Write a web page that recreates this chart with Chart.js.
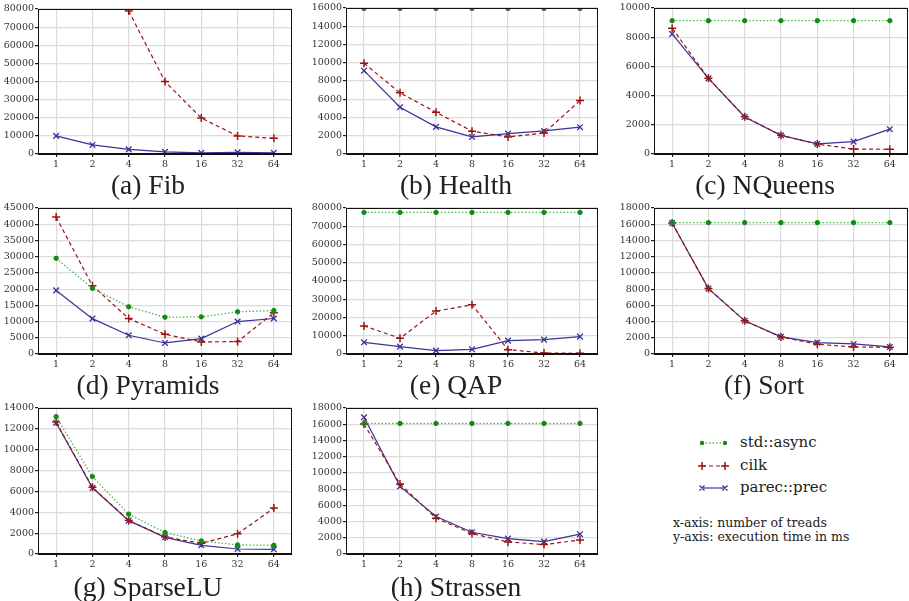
<!DOCTYPE html>
<html>
<head>
<meta charset="utf-8">
<script src="https://cdn.jsdelivr.net/npm/chart.js@4/dist/chart.umd.min.js"></script>
<style>
  html, body { margin:0; padding:0; background:#fff; width:909px; height:601px; overflow:hidden; position:relative; }
  canvas { position:absolute; }
  .cap { position:absolute; width:300px; text-align:center; font-family:"Liberation Serif", serif; font-size:27.5px; line-height:28px; color:#222; white-space:nowrap; }
  .leg { position:absolute; font-family:"DejaVu Serif", serif; font-size:15px; line-height:16px; color:#222; white-space:nowrap; }
  .note { position:absolute; font-family:"DejaVu Serif", serif; font-size:12.5px; line-height:14px; color:#222; white-space:nowrap; }
  svg { position:absolute; }
</style>
</head>
<body>
<script>
// ---- data ----
const threads = ['1', '2', '4', '8', '16', '32', '64'];
const seriesNames = ['std::async', 'cilk', 'parec::prec'];

const fibAsync = [null, null, null, null, null, null, null];
const fibCilk  = [null, null, 78900, 40000, 19800, 9950, 8650];
const fibPrec  = [10000, 5000, 2550, 1200, 600, 900, 600];

const healthAsync = [15950, 15950, 15950, 15950, 15950, 15950, 15950];
const healthCilk  = [9950, 6700, 4580, 2500, 1870, 2300, 5850];
const healthPrec  = [9130, 5130, 2970, 1870, 2240, 2530, 2940];

const nqueensAsync = [9130, 9130, 9130, 9130, 9130, 9130, 9130];
const nqueensCilk  = [8620, 5180, 2550, 1280, 680, 340, 320];
const nqueensPrec  = [8230, 5180, 2540, 1280, 690, 850, 1700];

const pyramidsAsync = [29500, 20230, 14550, 11350, 11450, 13000, 13400];
const pyramidsCilk  = [42200, 21050, 10940, 6090, 3720, 3820, 12700];
const pyramidsPrec  = [19600, 10900, 5780, 3400, 4750, 10000, 10940];

const qapAsync = [77600, 77600, 77600, 77600, 77600, 77600, 77600];
const qapCilk  = [15400, 8620, 23500, 26970, 2390, 550, 370];
const qapPrec  = [6420, 4040, 1830, 2570, 7340, 7890, 9540];

const sortAsync = [16200, 16200, 16200, 16200, 16200, 16200, 16200];
const sortCilk  = [16150, 8060, 4090, 2110, 1200, 870, 830];
const sortPrec  = [16150, 8060, 4090, 2110, 1400, 1240, 870];

const sparseAsync = [13170, 7420, 3820, 2055, 1250, 870, 835];
const sparseCilk  = [12650, 6390, 3210, 1640, 1030, 1930, 4400];
const sparsePrec  = [12590, 6350, 3200, 1600, 835, 480, 450];

const strassenAsync = [16100, 16100, 16100, 16100, 16100, 16100, 16100];
const strassenCilk  = [16020, 8630, 4420, 2520, 1490, 1160, 1730];
const strassenPrec  = [16850, 8340, 4620, 2680, 1900, 1530, 2440];

const yMaxes  = [80000, 16000, 10000, 45000, 80000, 18000, 14000, 18000];
const ySteps  = [10000, 2000, 2000, 5000, 10000, 2000, 2000, 2000];
const captions = ['(a) Fib', '(b) Health', '(c) NQueens', '(d) Pyramids', '(e) QAP', '(f) Sort', '(g) SparseLU', '(h) Strassen'];

// ---- styles / layout ----
const GREEN_LINE = '#4cb84c', GREEN_PT = '#138a13';
const RED = '#9a1414';
const BLUE = '#3a3296';

const panels = [
  { rect: [38, 9, 292, 154],   cx: 148, cy: 185, data: [fibAsync, fibCilk, fibPrec] },
  { rect: [346, 8, 598, 154],  cx: 456, cy: 185, data: [healthAsync, healthCilk, healthPrec] },
  { rect: [654, 8, 908, 154],  cx: 765, cy: 185, data: [nqueensAsync, nqueensCilk, nqueensPrec] },
  { rect: [38, 208, 292, 354], cx: 148, cy: 385, data: [pyramidsAsync, pyramidsCilk, pyramidsPrec] },
  { rect: [346, 208, 598, 354],cx: 456, cy: 385, data: [qapAsync, qapCilk, qapPrec] },
  { rect: [654, 208, 908, 354],cx: 764, cy: 385, data: [sortAsync, sortCilk, sortPrec] },
  { rect: [38, 408, 292, 554], cx: 148, cy: 587, data: [sparseAsync, sparseCilk, sparsePrec] },
  { rect: [346, 408, 598, 554],cx: 456, cy: 587, data: [strassenAsync, strassenCilk, strassenPrec] }
];

const YW = 44, PT = 8, PR = 8, XH = 22;

const framePlugin = {
  id: 'frame',
  afterDatasetsDraw(chart) {
    const a = chart.chartArea, ctx = chart.ctx;
    ctx.save();
    ctx.strokeStyle = '#111';
    ctx.lineWidth = 1;
    ctx.strokeRect(Math.round(a.left) + 0.5, Math.round(a.top) + 0.5,
                   Math.round(a.right - a.left) - 1, Math.round(a.bottom - a.top) - 1);
    ctx.restore();
  }
};

const tickFont = { family: '"DejaVu Serif", serif', size: 9.5 };

panels.forEach((p, i) => {
  const [l, t, r, b] = p.rect;
  const c = document.createElement('canvas');
  const w = r - l + YW + PR, h = b - t + PT + XH;
  c.width = w; c.height = h;
  c.style.left = (l - YW) + 'px';
  c.style.top = (t - PT) + 'px';
  c.style.width = w + 'px'; c.style.height = h + 'px';
  document.body.appendChild(c);

  new Chart(c, {
    type: 'line',
    data: {
      labels: threads,
      datasets: [
        { label: seriesNames[0], data: p.data[0], borderColor: GREEN_LINE, backgroundColor: GREEN_PT,
          pointBorderColor: GREEN_PT, pointBackgroundColor: GREEN_PT, borderWidth: 1.3, borderDash: [1.5, 2],
          pointStyle: 'circle', pointRadius: 2.2, pointBorderWidth: 1, tension: 0, spanGaps: false },
        { label: seriesNames[1], data: p.data[1], borderColor: RED, backgroundColor: RED,
          pointBorderColor: RED, borderWidth: 1.2, borderDash: [4, 3],
          pointStyle: 'cross', pointRadius: 4, pointBorderWidth: 1.5, tension: 0 },
        { label: seriesNames[2], data: p.data[2], borderColor: BLUE, backgroundColor: BLUE,
          pointBorderColor: BLUE, borderWidth: 1.2,
          pointStyle: 'crossRot', pointRadius: 4, pointBorderWidth: 1.3, tension: 0 }
      ]
    },
    options: {
      responsive: false,
      animation: false,
      devicePixelRatio: 1,
      layout: { padding: { top: PT, right: PR, left: 0, bottom: 0 } },
      plugins: { legend: { display: false }, tooltip: { enabled: false } },
      scales: {
        x: {
          type: 'category',
          offset: true,
          grid: { color: '#dcdcdc', lineWidth: 1.2, tickColor: '#222', tickLength: 3, drawTicks: true },
          border: { color: '#111', width: 1 },
          ticks: { font: tickFont, color: '#333', padding: 2, maxRotation: 0 },
          afterFit: s => { s.height = XH; }
        },
        y: {
          min: 0, max: yMaxes[i],
          grid: { color: '#dcdcdc', lineWidth: 1.2, tickColor: '#222', tickLength: 3, drawTicks: true },
          border: { color: '#111', width: 1 },
          ticks: { stepSize: ySteps[i], font: tickFont, color: '#333', padding: 1,
                   callback: v => String(v) },
          afterFit: s => { s.width = YW; }
        }
      }
    },
    plugins: [framePlugin]
  });

  const cap = document.createElement('div');
  cap.className = 'cap';
  cap.textContent = captions[i];
  cap.style.left = (p.cx - 150) + 'px';
  cap.style.top = (p.cy - 14) + 'px';
  document.body.appendChild(cap);
});

// ---- legend ----
const legRows = [
  { y: 443, name: seriesNames[0] },
  { y: 466, name: seriesNames[1] },
  { y: 488, name: seriesNames[2] }
];
const svgNS = 'http://www.w3.org/2000/svg';
legRows.forEach((row, k) => {
  const s = document.createElementNS(svgNS, 'svg');
  s.setAttribute('width', '32'); s.setAttribute('height', '12');
  s.style.left = '698px'; s.style.top = (row.y - 6) + 'px';
  let inner = '';
  if (k === 0) {
    inner = `<line x1="4" y1="6" x2="27" y2="6" stroke="${GREEN_LINE}" stroke-width="1.3" stroke-dasharray="1.5 2"/>
             <circle cx="4" cy="6" r="2.2" fill="${GREEN_PT}"/><circle cx="27" cy="6" r="2.2" fill="${GREEN_PT}"/>`;
  } else if (k === 1) {
    inner = `<line x1="4" y1="6" x2="27" y2="6" stroke="${RED}" stroke-width="1.2" stroke-dasharray="4 3"/>
             <path d="M0 6H8M4 2V10M23 6H31M27 2V10" stroke="${RED}" stroke-width="1.5"/>`;
  } else {
    inner = `<line x1="4" y1="6" x2="27" y2="6" stroke="${BLUE}" stroke-width="1.2"/>
             <path d="M1.5 3.5L6.5 8.5M1.5 8.5L6.5 3.5M24.5 3.5L29.5 8.5M24.5 8.5L29.5 3.5" stroke="${BLUE}" stroke-width="1.3"/>`;
  }
  s.innerHTML = inner;
  document.body.appendChild(s);
  const d = document.createElement('div');
  d.className = 'leg';
  d.textContent = row.name;
  d.style.left = '740px'; d.style.top = (row.y - 9) + 'px';
  document.body.appendChild(d);
});
const notes = ['x-axis: number of treads', 'y-axis: execution time in ms'];
notes.forEach((n, k) => {
  const d = document.createElement('div');
  d.className = 'note';
  d.textContent = n;
  d.style.left = '673px'; d.style.top = (516 + k * 14) + 'px';
  document.body.appendChild(d);
});
</script>
</body>
</html>
